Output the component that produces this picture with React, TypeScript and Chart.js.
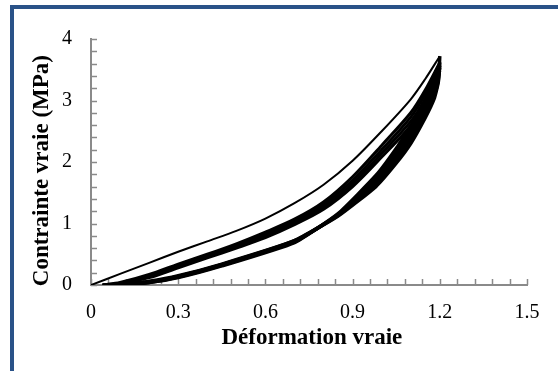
import React, { useEffect, useRef } from "react";
import { Chart, registerables } from "chart.js";

Chart.register(...registerables);

// ---- Tick labels ----
const xTickValues = [0, 0.3, 0.6, 0.9, 1.2, 1.5];
const yTickValues = [0, 1, 2, 3, 4];
const xMinorStep = 0.06;
const yMinorStep = 0.2;

// ---- First loading (top curve) ----
const load1Strain = [0, 0.1, 0.2, 0.3, 0.4, 0.5, 0.6, 0.7, 0.8, 0.9, 1.0, 1.1, 1.15, 1.2];
const load1Stress = [0, 0.18, 0.36, 0.54, 0.71, 0.88, 1.08, 1.33, 1.63, 2.02, 2.5, 3.02, 3.35, 3.72];

// ---- Reloading cycles (middle band) ----
const reloadStrain = [0.04, 0.1, 0.2, 0.3, 0.4, 0.5, 0.6, 0.7, 0.8, 0.9, 1.0, 1.1, 1.15, 1.2];
const reload2Stress = [0, 0.04, 0.17, 0.34, 0.5, 0.67, 0.86, 1.07, 1.35, 1.76, 2.27, 2.8, 3.17, 3.62];
const reload3Stress = [0, 0.03, 0.15, 0.32, 0.48, 0.64, 0.83, 1.04, 1.31, 1.7, 2.2, 2.73, 3.1, 3.57];
const reload4Stress = [0, 0.02, 0.14, 0.3, 0.46, 0.62, 0.8, 1.01, 1.27, 1.65, 2.14, 2.66, 3.03, 3.53];
const reload5Stress = [0, 0.02, 0.12, 0.28, 0.44, 0.6, 0.77, 0.98, 1.23, 1.6, 2.08, 2.59, 2.96, 3.49];

// ---- Unloading cycles (bottom band) ----
const unloadStrain = [1.2, 1.195, 1.18, 1.15, 1.1, 1.05, 0.98, 0.85, 0.7, 0.45, 0.3, 0.2, 0.1];
const unload1Stress = [3.72, 3.3, 3.02, 2.72, 2.3, 1.98, 1.6, 1.12, 0.72, 0.34, 0.15, 0.06, 0];
const unload2Stress = [3.62, 3.33, 3.07, 2.79, 2.38, 2.04, 1.64, 1.13, 0.72, 0.33, 0.14, 0.05, 0];
const unload3Stress = [3.57, 3.36, 3.12, 2.85, 2.45, 2.1, 1.68, 1.14, 0.71, 0.33, 0.14, 0.05, 0];
const unload4Stress = [3.53, 3.4, 3.18, 2.91, 2.52, 2.16, 1.73, 1.15, 0.7, 0.32, 0.13, 0.04, 0];
const unload5Stress = [3.49, 3.43, 3.24, 2.97, 2.59, 2.22, 1.78, 1.16, 0.69, 0.31, 0.12, 0.04, 0];

const toPoints = (xs: number[], ys: number[]) => xs.map((x, i) => ({ x, y: ys[i] }));

const minorTicksPlugin = {
  id: "minorTicks",
  beforeDatasetsDraw(chart: any) {
    const { ctx, chartArea, scales } = chart;
    const xs = scales.x;
    const ys = scales.y;
    ctx.save();
    ctx.strokeStyle = "#8a8a8a";
    ctx.lineWidth = 1.5;
    ctx.beginPath();
    for (let i = 0; i * xMinorStep <= xs.max + 1e-9; i++) {
      const px = Math.round(xs.getPixelForValue(i * xMinorStep)) + 0.5;
      ctx.moveTo(px, chartArea.bottom);
      ctx.lineTo(px, chartArea.bottom - 6);
    }
    for (let j = 0; j * yMinorStep <= ys.max + 1e-9; j++) {
      const py = Math.round(ys.getPixelForValue(j * yMinorStep)) + 0.5;
      ctx.moveTo(chartArea.left, py);
      ctx.lineTo(chartArea.left + 6, py);
    }
    ctx.stroke();
    ctx.restore();
  },
};

const serif = "'Liberation Serif', 'Times New Roman', serif";

export default function App() {
  const canvasRef = useRef<HTMLCanvasElement | null>(null);

  useEffect(() => {
    if (!canvasRef.current) return;
    const line = (xs: number[], ys: number[], w: number, tension: number) => ({
      data: toPoints(xs, ys),
      borderColor: "#000000",
      backgroundColor: "#000000",
      borderWidth: w,
      pointRadius: 0,
      showLine: true,
      fill: false,
      tension,
    });
    const chart = new Chart(canvasRef.current, {
      type: "scatter",
      data: {
        datasets: [
          line(load1Strain, load1Stress, 2, 0.3),
          line(reloadStrain, reload2Stress, 3, 0.3),
          line(reloadStrain, reload3Stress, 3, 0.3),
          line(reloadStrain, reload4Stress, 3, 0.3),
          line(reloadStrain, reload5Stress, 3, 0.3),
          line(unloadStrain, unload1Stress, 3.5, 0.15),
          line(unloadStrain, unload2Stress, 3.5, 0.15),
          line(unloadStrain, unload3Stress, 3.5, 0.15),
          line(unloadStrain, unload4Stress, 3.5, 0.15),
          line(unloadStrain, unload5Stress, 3.5, 0.15),
        ],
      },
      options: {
        animation: false,
        responsive: false,
        devicePixelRatio: 1,
        layout: { padding: { left: 24, top: 39, right: 31, bottom: 15 } },
        plugins: { legend: { display: false }, tooltip: { enabled: false } },
        scales: {
          x: {
            type: "linear",
            min: 0,
            max: 1.5,
            afterFit: (s: any) => {
              s.height = 71;
            },
            afterBuildTicks: (s: any) => {
              s.ticks = xTickValues.map((v) => ({ value: v }));
            },
            grid: { display: false, drawTicks: false, tickLength: 0 },
            border: { display: true, color: "#8a8a8a", width: 2 },
            ticks: {
              padding: 16,
              color: "#000000",
              font: { family: serif, size: 20 },
              callback: (v: any) => String(v),
              maxRotation: 0,
              autoSkip: false,
            },
            title: {
              display: true,
              text: " Déformation vraie",
              color: "#000000",
              font: { family: serif, size: 23, weight: "bold" },
              padding: { top: 0, bottom: 4 },
            },
          },
          y: {
            type: "linear",
            min: 0,
            max: 4,
            afterFit: (s: any) => {
              s.width = 67;
            },
            afterBuildTicks: (s: any) => {
              s.ticks = yTickValues.map((v) => ({ value: v }));
            },
            grid: { display: false, drawTicks: false, tickLength: 0 },
            border: { display: true, color: "#8a8a8a", width: 2 },
            ticks: {
              padding: 19,
              color: "#000000",
              font: { family: serif, size: 20 },
              callback: (v: any) => String(v),
              autoSkip: false,
            },
            title: {
              display: true,
              text: "Contrainte vraie (MPa)   ",
              color: "#000000",
              font: { family: serif, size: 23, weight: "bold" },
              padding: { top: 4, bottom: 0 },
            },
          },
        },
      },
      plugins: [minorTicksPlugin],
    } as any);
    return () => chart.destroy();
  }, []);

  return (
    <div
      style={{
        position: "fixed",
        left: 0,
        top: 0,
        width: 558,
        height: 371,
        overflow: "hidden",
        background: "#ffffff",
      }}
    >
      <div
        style={{
          position: "absolute",
          left: 10,
          top: 5,
          width: 640,
          height: 450,
          border: "4px solid #2a5288",
          boxSizing: "border-box",
        }}
      />
      <canvas
        ref={canvasRef}
        width={558}
        height={371}
        style={{ position: "absolute", left: 0, top: 0, width: 558, height: 371 }}
      />
    </div>
  );
}
